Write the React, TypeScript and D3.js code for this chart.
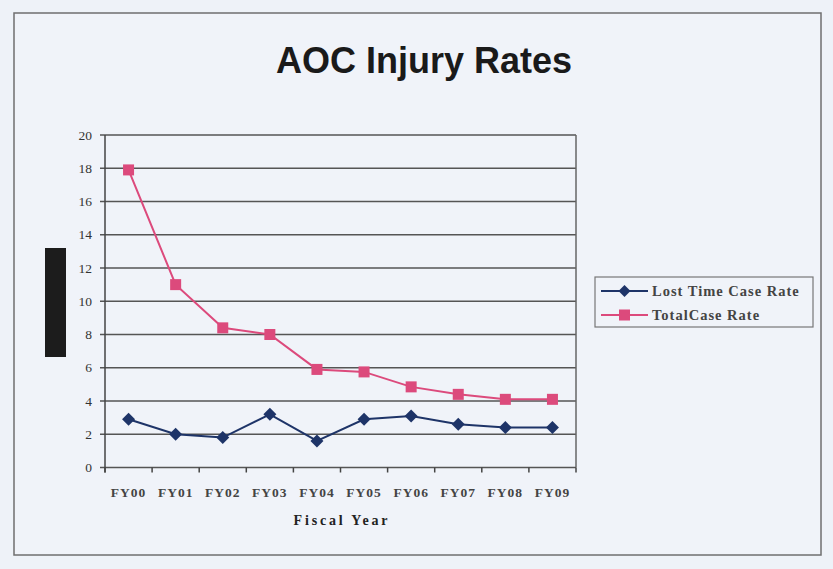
import React from "react";
import * as d3 from "d3";

const categories = ["FY00", "FY01", "FY02", "FY03", "FY04", "FY05", "FY06", "FY07", "FY08", "FY09"];
const lostTime = [2.9, 2.0, 1.8, 3.2, 1.6, 2.9, 3.1, 2.6, 2.4, 2.4];
const totalCase = [17.9, 11.0, 8.4, 8.0, 5.9, 5.75, 4.85, 4.4, 4.1, 4.1];
const yTicks = [0, 2, 4, 6, 8, 10, 12, 14, 16, 18, 20];
const seriesNames = ["Lost Time Case Rate", "TotalCase Rate"];

const W = 833, H = 569;
const plot = { left: 105, right: 576, top: 135, bottom: 467.5 };
const BLUE = "#1e3468";
const PINK = "#dc4a7c";
const serif = "'Liberation Serif', 'Times New Roman', serif";

export default function App() {
  const x = d3.scaleBand<string>().domain(categories).range([plot.left, plot.right]);
  const y = d3.scaleLinear().domain([0, 20]).range([plot.bottom, plot.top]);
  const cx = (c: string) => (x(c) as number) + x.bandwidth() / 2;
  const line = d3.line<number>().x((_, i) => cx(categories[i])).y((d) => y(d));

  const diamond = (px: number, py: number, r: number) =>
    `M${px},${py - r}L${px + r},${py}L${px},${py + r}L${px - r},${py}Z`;

  return (
    <svg width={W} height={H} style={{ position: "absolute", left: 0, top: 0, display: "block" }}>
      <rect x={0} y={0} width={W} height={H} fill="#eef2f8" />
      <rect x={14} y={13} width={807} height={542} fill="#f0f3f9" stroke="#6f6f6f" strokeWidth={1.5} />
      <text x={424} y={73} textAnchor="middle" fontFamily="'Liberation Sans', Arial, sans-serif"
        fontWeight="bold" fontSize={36} fill="#1a1a1a">AOC Injury Rates</text>

      {/* redaction bar */}
      <rect x={45} y={248} width={21} height={109} fill="#1c1c1c" />

      {/* gridlines */}
      {yTicks.map((t) => (
        <line key={t} x1={plot.left - 5} x2={plot.right} y1={y(t)} y2={y(t)} stroke="#555" strokeWidth={1.5} />
      ))}
      <line x1={plot.right} x2={plot.right} y1={plot.top} y2={plot.bottom} stroke="#666" strokeWidth={1.5} />
      <line x1={plot.left} x2={plot.left} y1={plot.top} y2={plot.bottom + 5} stroke="#444" strokeWidth={1.5} />
      {categories.map((c) => (
        <line key={c} x1={x(c) as number} x2={x(c) as number}
          y1={plot.bottom} y2={plot.bottom + 5} stroke="#444" strokeWidth={1.5} />
      ))}
      <line x1={plot.right} x2={plot.right} y1={plot.bottom} y2={plot.bottom + 5} stroke="#444" strokeWidth={1.5} />

      {/* y labels */}
      {yTicks.map((t) => (
        <text key={t} x={92} y={y(t) + 4.5} textAnchor="end" fontFamily={serif} fontSize={13.5} fill="#333">{t}</text>
      ))}
      {/* x labels */}
      {categories.map((c) => (
        <text key={c} x={cx(c)} y={497} textAnchor="middle" fontFamily={serif} fontSize={13.5}
          fontWeight="bold" fill="#444" letterSpacing={1}>{c}</text>
      ))}
      <text x={342} y={525} textAnchor="middle" fontFamily={serif} fontWeight="bold" fontSize={14}
        fill="#222" letterSpacing={2.8}>Fiscal Year</text>

      {/* series */}
      <path d={line(totalCase) as string} fill="none" stroke={PINK} strokeWidth={2} />
      {totalCase.map((v, i) => (
        <rect key={i} x={cx(categories[i]) - 5.5} y={y(v) - 5.5} width={11} height={11} fill={PINK} />
      ))}
      <path d={line(lostTime) as string} fill="none" stroke={BLUE} strokeWidth={2} />
      {lostTime.map((v, i) => (
        <path key={i} d={diamond(cx(categories[i]), y(v), 6.5)} fill={BLUE} />
      ))}

      {/* legend */}
      <rect x={595} y={277} width={218} height={50} fill="#f0f3f9" stroke="#777" strokeWidth={1.2} />
      {seriesNames.map((n, i) => {
        const ly = 291 + i * 24;
        const col = i === 0 ? BLUE : PINK;
        return (
          <g key={n}>
            <line x1={601} x2={648} y1={ly} y2={ly} stroke={col} strokeWidth={2} />
            {i === 0 ? (
              <path d={diamond(624.5, ly, 6)} fill={col} />
            ) : (
              <rect x={619} y={ly - 5.5} width={11} height={11} fill={col} />
            )}
            <text x={652} y={ly + 5} fontFamily={serif} fontSize={14.5} fontWeight="bold" fill="#444"
              letterSpacing={1}>{n}</text>
          </g>
        );
      })}
    </svg>
  );
}
